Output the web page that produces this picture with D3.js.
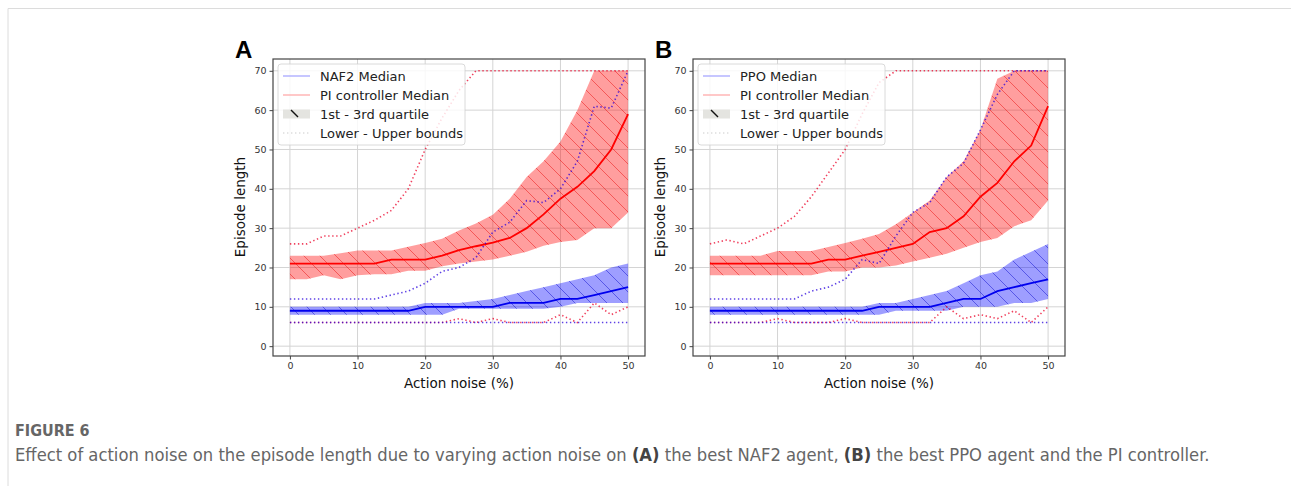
<!DOCTYPE html>
<html><head><meta charset="utf-8">
<script src="https://cdn.jsdelivr.net/npm/d3@7"></script>
<style>
body{margin:0;background:#fff;}
svg{display:block;font-family:"DejaVu Sans",sans-serif;}
</style>
</head><body>
<svg id="chart" width="1291" height="486"></svg>
<script>
// ---------- data ----------
const noise = [0,2.5,5,7.5,10,12.5,15,17.5,20,22.5,25,27.5,30,32.5,35,37.5,40,42.5,45,47.5,50];
const xTicks = [0,10,20,30,40,50];
const yTicks = [0,10,20,30,40,50,60,70];

// Panel A: NAF2 agent vs PI controller
const aAgentMedian = [9,9,9,9,9,9,9,9,10,10,10,10,10,11,11,11,12,12,13,14,15];
const aAgentQ1     = [8,8,8,8,8,8,8,8,8,8,9.5,9.5,9.5,9.5,9.5,9.5,10,11,11,11,11];
const aAgentQ3     = [10,10,10,10,10,10,10,10,11,11,11,11.5,12,13,14,15,16,17,18,20,21];
const aAgentLow    = [6,6,6,6,6,6,6,6,6,6,6,6,6,6,6,6,6,6,6,6,6];
const aAgentHigh   = [12,12,12,12,12,12,13,14,16,19,20,22.5,29,31.5,37,36.5,40,47,61,60.5,70];
const aPiMedian    = [21,21,21,21,21,21,22,22,22,23,24.4,25.4,26.3,27.5,30,33.5,37.5,40.5,44.5,50,59];
const aPiQ1        = [17,17,18,17,18,18.3,18.3,19.2,19.2,20.3,21,21.5,22,23,24,25.5,26.5,27,30,30,34];
const aPiQ3        = [23,23,23,23.6,24.3,24.3,24.3,25.3,26.2,27.3,29.4,31.2,33.4,37.5,43,47,52,60,70,70,70];
const aPiLow       = [6,6,6,6,6,6,6,6,6,6,7,6,7,6,6,6,8,6,11,8,10];
const aPiHigh      = [26,26,28,28,30,32,34.5,40,50,58,65,70,70,70,70,70,70,70,70,70,70];

// Panel B: PPO agent vs PI controller
const bAgentMedian = [9,9,9,9,9,9,9,9,9,9,10,10,10,10,11,12,12,14,15,16,17];
const bAgentQ1     = [8,8,8,8,8,8,8,8,8,8,8,9,9,9,9,10,10,10,11,11,12];
const bAgentQ3     = [10,10,10,10,10,10,10,10,10,10,11,11,12,13,14,16,18,19,22,24,26];
const bAgentLow    = [6,6,6,6,6,6,6,6,6,6,6,6,6,6,6,6,6,6,6,6,6];
const bAgentHigh   = [12,12,12,12,12,12,14,15,17,22,21,28,34,36.5,43,46.5,55,64,70,70,70];
const bPiMedian    = [21,21,21,21,21,21,21,22,22,23,24,25,26,29,30,33,38,41.5,47,51,61];
const bPiQ1        = [18,18,18,18,18,18,18,19,19,20,20,20.5,21.5,22.5,23.5,25,26.5,27.5,30.5,32,37];
const bPiQ3        = [23,23,23,23,24.2,24.2,24.2,25.2,26.2,27.3,28.5,31,34,37,43,47,55,68,70,70,70];
const bPiLow       = [6,6,6,6,7,6,6,6,7,6,6,6,6,6,10,7,8,7,9,6,10];
const bPiHigh      = [26,27,26,28,30,33,38,44,50,59,67,70,70,70,70,70,70,70,70,70,70];

const legendLabelsA = ["NAF2 Median","PI controller Median","1st - 3rd quartile","Lower - Upper bounds"];
const legendLabelsB = ["PPO Median","PI controller Median","1st - 3rd quartile","Lower - Upper bounds"];

// ---------- drawing ----------
const svg = d3.select("#chart");
svg.append("rect").attr("width",1291).attr("height",486).attr("fill","#fff");
// card border
svg.append("path").attr("d","M8,486 L8,8.5 L1291,8.5").attr("fill","none").attr("stroke","#dcdcdc").attr("stroke-width",1);

const defs = svg.append("defs");
function hatch(id, color){
  const s = 16;
  const p = defs.append("pattern").attr("id",id).attr("patternUnits","userSpaceOnUse")
    .attr("width",s).attr("height",s);
  p.append("path").attr("d",`M0,0L${s},${s}M${-s/2},${s/2}L${s/2},${1.5*s}M${s/2},${-s/2}L${1.5*s},${s/2}`)
    .attr("stroke",color).attr("stroke-width",0.9).attr("fill","none");
}
hatch("hatchRed","rgba(230,0,0,0.5)");
hatch("hatchBlue","rgba(0,0,200,0.5)");

const panels = [
  {id:"A", x0:273, x1:645, labels:legendLabelsA,
   am:aAgentMedian, aq1:aAgentQ1, aq3:aAgentQ3, al:aAgentLow, ah:aAgentHigh,
   pm:aPiMedian, pq1:aPiQ1, pq3:aPiQ3, pl:aPiLow, ph:aPiHigh},
  {id:"B", x0:693, x1:1065, labels:legendLabelsB,
   am:bAgentMedian, aq1:bAgentQ1, aq3:bAgentQ3, al:bAgentLow, ah:bAgentHigh,
   pm:bPiMedian, pq1:bPiQ1, pq3:bPiQ3, pl:bPiLow, ph:bPiHigh}
];

const yTop = 59, yBot = 356;

panels.forEach(P => {
  const g = svg.append("g");
  const x = d3.scaleLinear().domain([-2.5,52.5]).range([P.x0,P.x1]);
  const y = d3.scaleLinear().domain([-2.5,73]).range([yBot,yTop]);

  const clipId = "clip"+P.id;
  defs.append("clipPath").attr("id",clipId).append("rect")
    .attr("x",P.x0).attr("y",yTop).attr("width",P.x1-P.x0).attr("height",yBot-yTop);

  // grid
  g.append("g").selectAll("line").data(xTicks).join("line")
    .attr("x1",d=>x(d)).attr("x2",d=>x(d)).attr("y1",yTop).attr("y2",yBot)
    .attr("stroke","#d4d4d4").attr("stroke-width",1);
  g.append("g").selectAll("line").data(yTicks).join("line")
    .attr("y1",d=>y(d)).attr("y2",d=>y(d)).attr("x1",P.x0).attr("x2",P.x1)
    .attr("stroke","#d4d4d4").attr("stroke-width",1);

  const plot = g.append("g").attr("clip-path",`url(#${clipId})`);
  const area = (lo,hi) => d3.area().x((d,i)=>x(noise[i])).y0((d,i)=>y(lo[i])).y1((d,i)=>y(hi[i]))(noise);
  const line = arr => d3.line().x((d,i)=>x(noise[i])).y((d,i)=>y(arr[i]))(noise);

  // PI band
  plot.append("path").attr("d",area(P.pq1,P.pq3)).attr("fill","rgba(255,0,0,0.38)");
  plot.append("path").attr("d",area(P.pq1,P.pq3)).attr("fill","url(#hatchRed)");
  // agent band
  plot.append("path").attr("d",area(P.aq1,P.aq3)).attr("fill","rgba(0,0,255,0.38)");
  plot.append("path").attr("d",area(P.aq1,P.aq3)).attr("fill","url(#hatchBlue)");

  // medians
  plot.append("path").attr("d",line(P.pm)).attr("fill","none").attr("stroke","#ff0000").attr("stroke-width",1.8);
  plot.append("path").attr("d",line(P.am)).attr("fill","none").attr("stroke","#0000ee").attr("stroke-width",1.8);

  // bounds (dotted)
  const dotted = (arr,color) => plot.append("path").attr("d",line(arr)).attr("fill","none")
    .attr("stroke",color).attr("stroke-width",1.6).attr("stroke-dasharray","1.4,2.6");
  dotted(P.pl,"rgba(235,0,40,0.75)");
  dotted(P.ph,"rgba(235,0,40,0.75)");
  dotted(P.al,"rgba(40,0,220,0.75)");
  dotted(P.ah,"rgba(40,0,220,0.75)");

  // frame
  g.append("rect").attr("x",P.x0).attr("y",yTop).attr("width",P.x1-P.x0).attr("height",yBot-yTop)
    .attr("fill","none").attr("stroke","#444").attr("stroke-width",1.2);

  // axes
  const ax = g.append("g").attr("transform",`translate(0,${yBot})`)
    .call(d3.axisBottom(x).tickValues(xTicks).tickSize(3.5).tickPadding(3));
  const ay = g.append("g").attr("transform",`translate(${P.x0},0)`)
    .call(d3.axisLeft(y).tickValues(yTicks).tickSize(3.5).tickPadding(3));
  [ax,ay].forEach(a=>{
    a.select(".domain").remove();
    a.selectAll(".tick line").attr("stroke","#444");
    a.selectAll(".tick text").attr("fill","#333").style("font-size","9.5px").style("font-family","'DejaVu Sans',sans-serif");
  });

  // axis labels
  g.append("text").attr("x",(x(0)+x(50))/2).attr("y",388).attr("text-anchor","middle")
    .style("font-size","13.5px").attr("fill","#111").text("Action noise (%)");
  g.append("text").attr("transform",`translate(${P.x0-28},207) rotate(-90)`).attr("text-anchor","middle")
    .style("font-size","13.5px").attr("fill","#111").text("Episode length");

  // panel letter
  g.append("text").attr("x",P.x0-38).attr("y",58).style("font-family","'Liberation Sans',Arial,sans-serif")
    .style("font-weight","bold").style("font-size","24px").attr("fill","#000").text(P.id);

  // legend
  const lg = g.append("g").attr("transform",`translate(${P.x0+5},64)`);
  lg.append("rect").attr("width",187).attr("height",81).attr("rx",3)
    .attr("fill","rgba(255,255,255,0.82)").attr("stroke","#d0d0d0").attr("stroke-width",0.8);
  const rowY = [12,31,50,69];
  const sx0 = 5, sx1 = 32, tx = 42;
  lg.append("line").attr("x1",sx0).attr("x2",sx1).attr("y1",rowY[0]).attr("y2",rowY[0])
    .attr("stroke","#a8a8ff").attr("stroke-width",1.3);
  lg.append("line").attr("x1",sx0).attr("x2",sx1).attr("y1",rowY[1]).attr("y2",rowY[1])
    .attr("stroke","#ffaaaa").attr("stroke-width",1.3);
  lg.append("rect").attr("x",sx0).attr("y",rowY[2]-4.5).attr("width",sx1-sx0).attr("height",9)
    .attr("fill","#e4e4e0");
  lg.append("line").attr("x1",sx0+8).attr("x2",sx0+15).attr("y1",rowY[2]-4).attr("y2",rowY[2]+3)
    .attr("stroke","#111").attr("stroke-width",1.4);
  lg.append("line").attr("x1",sx0).attr("x2",sx1).attr("y1",rowY[3]).attr("y2",rowY[3])
    .attr("stroke","#dddddd").attr("stroke-width",1.3).attr("stroke-dasharray","1.4,2.6");
  lg.selectAll("text.lab").data(P.labels).join("text").attr("class","lab")
    .attr("x",tx).attr("y",(d,i)=>rowY[i]+4.5).style("font-size","13px").attr("fill","#222").text(d=>d);
});

// caption
const capFont = "'DejaVu Sans Condensed','Noto Sans',sans-serif";
svg.append("text").attr("x",15).attr("y",436).style("font-family",capFont)
  .style("font-size","16px").style("font-weight","600").attr("fill","#666")
  .text("FIGURE 6");
const cap = svg.append("text").attr("x",15).attr("y",461).style("font-family",capFont)
  .style("font-size","15px").attr("fill","#666");
const parts = [["Effect of action noise on the episode length due to varying action noise on ",false],["(A)",true],
  [" the best NAF2 agent, ",false],["(B)",true],[" the best PPO agent and the PI controller.",false]];
parts.forEach(([t,b])=>cap.append("tspan").style("font-weight",b?"700":"400").attr("fill",b?"#444":"#666").text(t));
const w = cap.node().getComputedTextLength();
const target = 1195;
cap.style("font-size",(15*target/w).toFixed(2)+"px");
</script>
</body></html>
